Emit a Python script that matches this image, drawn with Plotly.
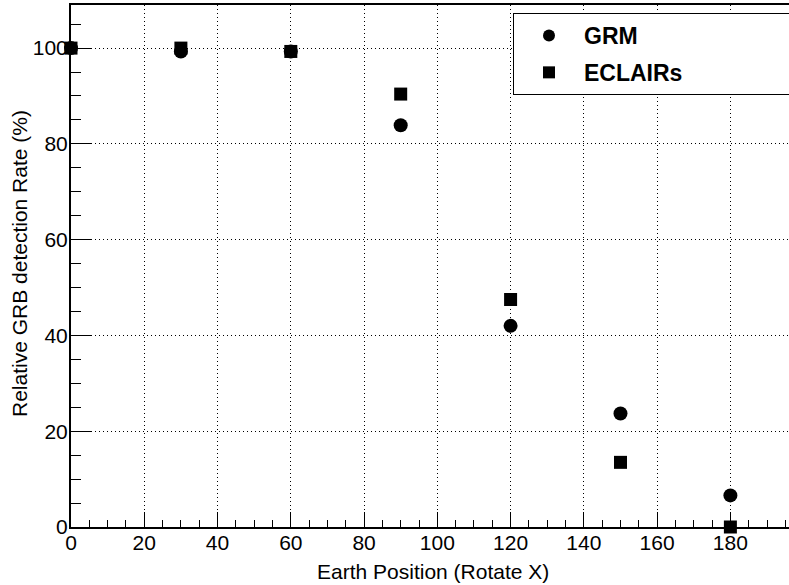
import plotly.graph_objects as go

positions = [0, 30, 60, 90, 120, 150, 180]
grm_rate = [100, 99.3, 99.3, 83.9, 42.0, 23.7, 6.6]
eclairs_rate = [100, 100, 99.3, 90.4, 47.5, 13.5, 0]
series_names = ["GRM", "ECLAIRs"]
x_title = "Earth Position (Rotate X)"
y_title = "Relative GRB detection Rate (%)"

FONT = "Liberation Sans, Arial, sans-serif"
PAD = "\u00a0" * 16

fig = go.Figure()
fig.add_trace(go.Scatter(x=positions, y=grm_rate, mode="markers", name=series_names[0] + PAD,
                         legendgroup="a",
                         marker=dict(symbol="circle", size=14, color="black"), cliponaxis=False))
fig.add_trace(go.Scatter(x=positions, y=eclairs_rate, mode="markers", name=series_names[1] + PAD,
                         legendgroup="b",
                         marker=dict(symbol="square", size=13, color="black"), cliponaxis=False))

axis_common = dict(
    showline=True, linecolor="black", linewidth=2,
    ticks="inside", tickcolor="black", tickwidth=1,
    showgrid=True, gridcolor="black", griddash="1px,3px", gridwidth=1,
    zeroline=False,
    tickfont=dict(family=FONT, size=21, color="black"),
)

fig.update_layout(
    width=789, height=585,
    margin=dict(l=71, r=0, t=5, b=58, autoexpand=False),
    paper_bgcolor="white", plot_bgcolor="white",
    showlegend=True,
    legend=dict(x=(513 - 71) / 718, y=1 - (13 - 5) / 522, xanchor="left", yanchor="top",
                bgcolor="white", bordercolor="black", borderwidth=1,
                font=dict(family=FONT, size=23, color="black", weight="bold"),
                tracegroupgap=4, itemsizing="constant", itemwidth=60),
    xaxis=dict(range=[0, 196], dtick=20, ticklen=15, mirror=True, ticklabelstandoff=-4, **axis_common,
               minor=dict(dtick=5, ticklen=7, ticks="inside", tickcolor="black", showgrid=False)),
    yaxis=dict(range=[0, 109], dtick=20, ticklen=20, ticklabelstandoff=-3, **axis_common,
               minor=dict(dtick=5, ticklen=10, ticks="inside", tickcolor="black", showgrid=False)),
    annotations=[
        dict(text=x_title, xref="paper", yref="paper", x=(433 - 71) / 718, y=-(571 - 527) / 522,
             xanchor="center", yanchor="middle", showarrow=False,
             font=dict(family=FONT, size=21, color="black")),
        dict(text=y_title, xref="paper", yref="paper", x=-(71 - 19) / 718, y=1 - (264 - 5) / 522,
             xanchor="center", yanchor="middle", showarrow=False, textangle=-90,
             font=dict(family=FONT, size=21, color="black")),
    ],
)

fig.write_html("out.html", config={"displayModeBar": False},
               post_script="document.body.style.margin='0';document.body.style.padding='0';")
